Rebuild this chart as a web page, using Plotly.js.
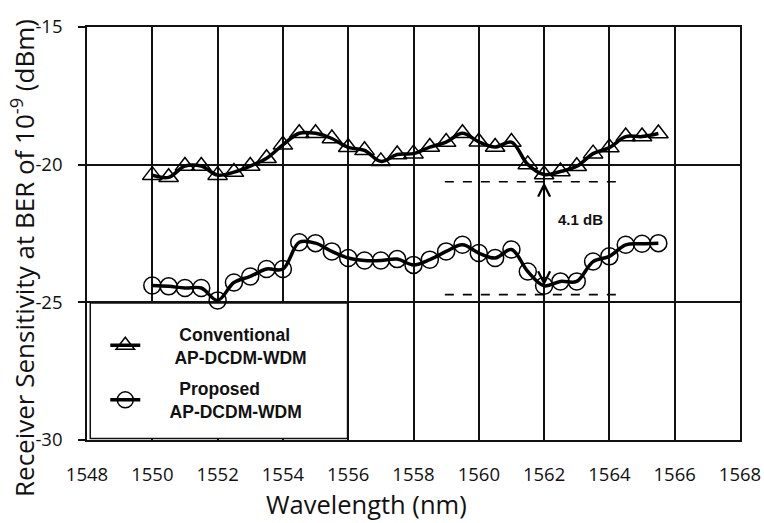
<!DOCTYPE html>
<html>
<head>
<meta charset="utf-8">
<script src="https://cdn.plot.ly/plotly-3.0.1.min.js"></script>
<style>html,body{margin:0;padding:0;background:#fff;}#chart{width:764px;height:523px;}</style>
</head>
<body>
<div id="chart"></div>
<script>
// Wavelength (nm)
var wavelength = [1550,1550.5,1551,1551.5,1552,1552.5,1553,1553.5,1554,1554.5,1555,1555.5,1556,1556.5,1557,1557.5,
                  1558,1558.5,1559,1559.5,1560,1560.5,1561,1561.5,1562,1562.5,1563,1563.5,1564,1564.5,1565,1565.5];
// Receiver sensitivity (dBm)
var conventional = [-20.38,-20.46,-20.05,-20.05,-20.38,-20.27,-20.05,-19.77,-19.28,-18.86,-18.86,-19.05,-19.37,-19.48,-19.88,-19.63,
                    -19.60,-19.36,-19.18,-18.86,-19.17,-19.36,-19.18,-19.99,-20.36,-20.25,-20.06,-19.60,-19.38,-18.98,-18.98,-18.87];
var proposed = [-24.39,-24.42,-24.48,-24.48,-24.93,-24.28,-24.06,-23.79,-23.79,-22.82,-22.85,-23.15,-23.39,-23.48,-23.48,-23.43,
                -23.64,-23.45,-23.15,-22.91,-23.21,-23.39,-23.08,-23.88,-24.40,-24.24,-24.24,-23.52,-23.33,-22.91,-22.87,-22.85];
var seriesLine1 = ['Conventional', 'Proposed'];
var seriesLine2 = ['AP-DCDM-WDM', 'AP-DCDM-WDM'];
var xTicks = [1548,1550,1552,1554,1556,1558,1560,1562,1564,1566,1568];
var yTicks = [-30,-25,-20,-15];
// Annotation values: penalty markers at 1562 nm
var refLevels = [-20.62, -24.72];
var refSpan = [1558.96, 1564.25];
var arrowEnds = [-20.58, -24.40];
var gainLabel = '4.1 dB';

var nb = '\u00a0';
function pad(n){ return Array(n+1).join(nb); }

var traces = [
  {x: wavelength, y: conventional, type: 'scatter', mode: 'lines+markers',
   name: pad(7) + seriesLine1[0] + '<br>' + pad(6) + seriesLine2[0] + pad(8), legendgroup: 'a',
   line: {color: '#000', width: 3.5, shape: 'spline', smoothing: 1},
   marker: {symbol: 'triangle-up-open', size: 17, color: '#000', line: {width: 1.5, color: '#000'}}},
  {x: wavelength, y: proposed, type: 'scatter', mode: 'lines+markers',
   name: pad(7) + seriesLine1[1] + '<br>' + pad(5) + seriesLine2[1] + pad(8), legendgroup: 'b',
   line: {color: '#000', width: 3.5, shape: 'spline', smoothing: 1},
   marker: {symbol: 'circle-open', size: 17, color: '#000', line: {width: 1.5, color: '#000'}}}
];

var tickFont = {family: 'Open Sans, Noto Sans, sans-serif', size: 18.5, color: '#111'};

var layout = {
  width: 764, height: 523,
  margin: {l: 87, r: 24, t: 27, b: 83},
  paper_bgcolor: '#fff', plot_bgcolor: '#fff',
  showlegend: true,
  legend: {x: 0.028, y: 0.30, xanchor: 'left', yanchor: 'top',
           bgcolor: 'rgba(0,0,0,0)', borderwidth: 0, tracegroupgap: 6,
           font: {family: 'Liberation Sans, Arial, sans-serif', size: 17.5, color: '#111', weight: 'bold'}},
  xaxis: {range: [1548, 1568], tickvals: xTicks, ticktext: xTicks.map(String),
          showgrid: true, gridcolor: '#111', gridwidth: 1.6,
          showline: true, linecolor: '#111', linewidth: 1.6, mirror: true,
          ticks: '', ticklabelstandoff: 17, tickfont: tickFont, zeroline: false, fixedrange: true},
  yaxis: {range: [-30, -15], tickvals: yTicks, ticktext: yTicks.map(String),
          showgrid: true, gridcolor: '#111', gridwidth: 1.6,
          showline: true, linecolor: '#111', linewidth: 1.6, mirror: true,
          ticks: 'outside', ticklen: 7, tickcolor: '#111', tickwidth: 1.6, ticklabelstandoff: 12,
          tickfont: tickFont, zeroline: false, fixedrange: true},
  shapes: [
    {type: 'rect', xref: 'x', yref: 'y', layer: 'between',
     x0: 1548.1, x1: 1555.98, y0: -29.95, y1: -25.02,
     fillcolor: '#fff', line: {color: '#111', width: 1.5}},
    {type: 'line', xref: 'x', yref: 'y', x0: refSpan[0], x1: refSpan[1], y0: refLevels[0], y1: refLevels[0],
     line: {color: '#000', width: 1.6, dash: 'dash'}},
    {type: 'line', xref: 'x', yref: 'y', x0: refSpan[0], x1: refSpan[1], y0: refLevels[1], y1: refLevels[1],
     line: {color: '#000', width: 1.6, dash: 'dash'}}
  ],
  annotations: [
    {x: 1562, y: arrowEnds[1], ax: 1562, ay: arrowEnds[0], xref: 'x', yref: 'y', axref: 'x', ayref: 'y',
     text: '', showarrow: true, arrowside: 'end+start', arrowhead: 5, startarrowhead: 5,
     arrowsize: 1.3, startarrowsize: 1.3, arrowwidth: 1.8, arrowcolor: '#000'},
    {x: 1563.12, y: -21.98, xref: 'x', yref: 'y', text: '<b>' + gainLabel + '</b>', showarrow: false,
     font: {family: 'Liberation Sans, Arial, sans-serif', size: 15, color: '#111'}},
    {text: 'Wavelength (nm)', showarrow: false, xanchor: 'center', yanchor: 'middle',
     font: {family: 'Open Sans, Noto Sans, sans-serif', size: 25.5, color: '#111'}},
    {text: 'Receiver Sensitivity at BER of 10<sup>-9</sup> (dBm)', showarrow: false, textangle: -90,
     xanchor: 'center', yanchor: 'middle',
     font: {family: 'Open Sans, Noto Sans, sans-serif', size: 26, color: '#111'}}
  ]
};
// place the two axis-title annotations at their pixel spots (converted to paper coordinates)
(function(){
  var pw = 764 - 87 - 24, ph = 523 - 27 - 83;
  var xa = layout.annotations[2];
  xa.xref = 'paper'; xa.yref = 'paper';
  xa.x = (366 - 87) / pw; xa.y = (440 - 504) / ph;
  var ya = layout.annotations[3];
  ya.xref = 'paper'; ya.yref = 'paper';
  ya.x = (23 - 87) / pw; ya.y = (440 - 258) / ph;
})();

Plotly.newPlot('chart', traces, layout, {displayModeBar: false});
</script>
</body>
</html>
